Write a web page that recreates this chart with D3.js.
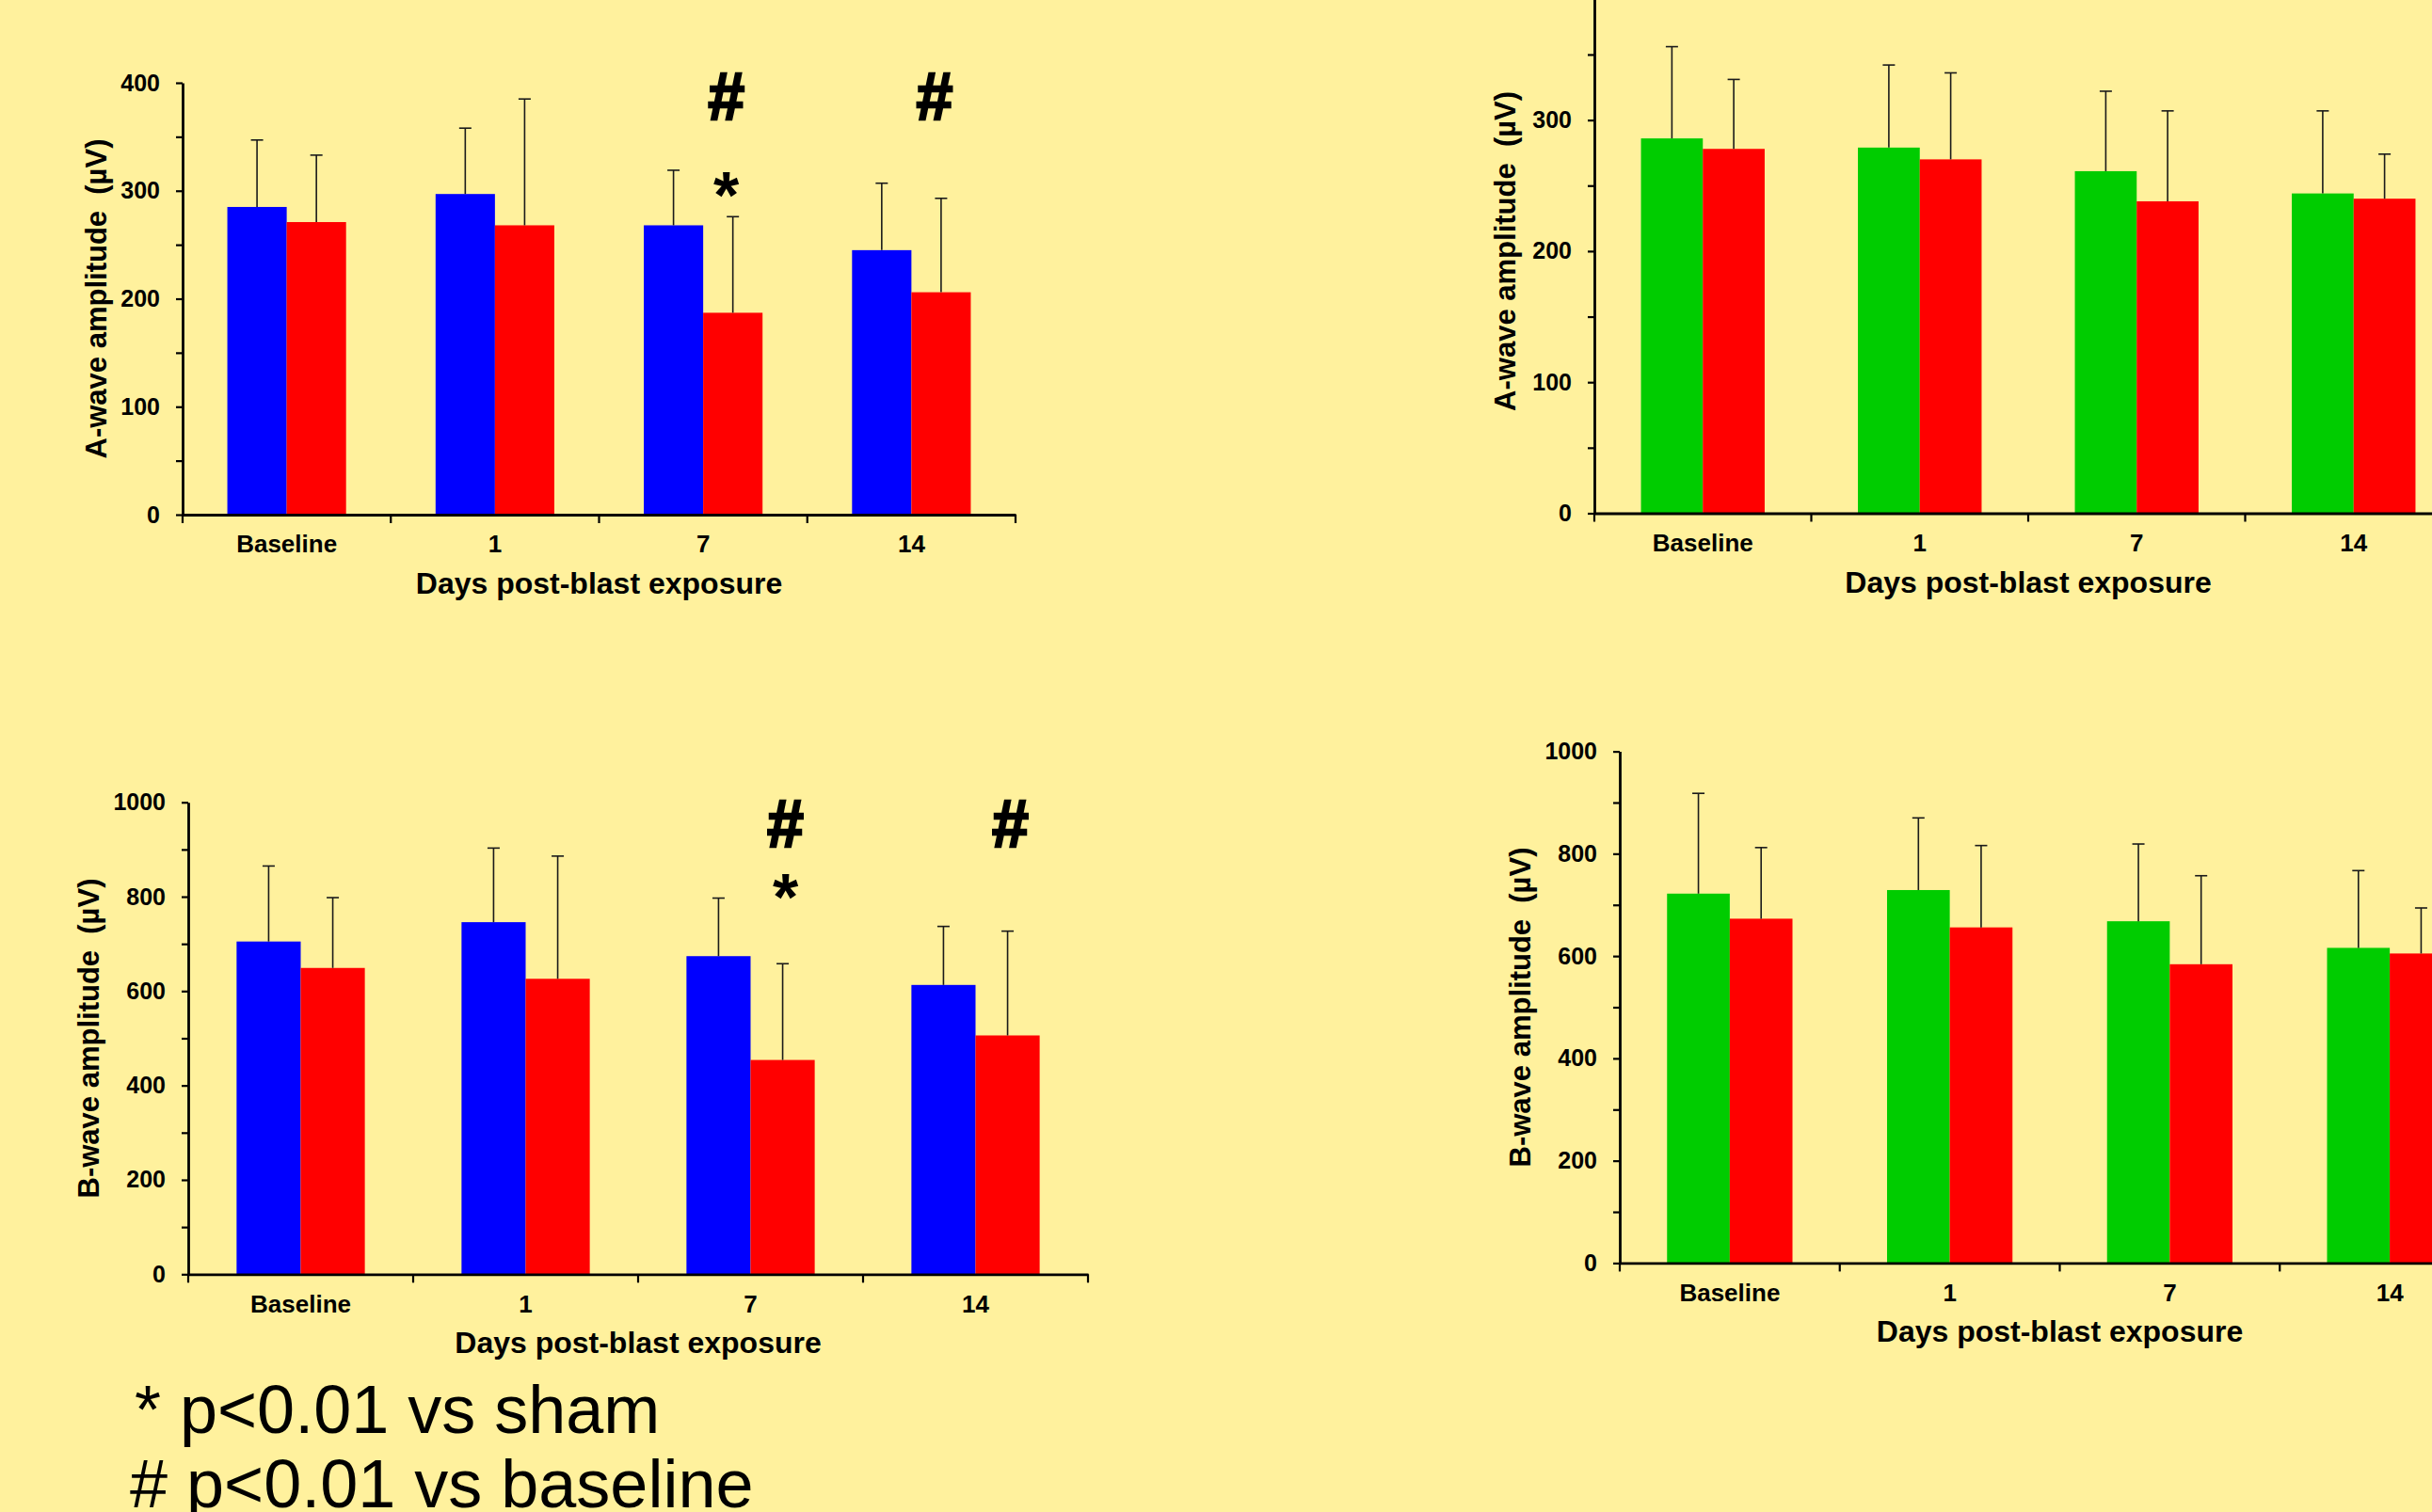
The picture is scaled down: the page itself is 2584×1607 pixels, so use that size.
<!DOCTYPE html>
<html>
<head>
<meta charset="utf-8">
<script src="https://cdn.jsdelivr.net/npm/d3@7"></script>
<style>
  html, body { margin: 0; padding: 0; background: #FFF19D; overflow: hidden; }
  svg { display: block; }
  text { font-family: Arial, "Liberation Sans", Helvetica, sans-serif; }
</style>
</head>
<body>
<svg id="chart" width="2584" height="1607"></svg>
<script>
// ---- data ----
const categories = ["Baseline", "1", "7", "14"];
const aWaveTicks = [0, 100, 200, 300, 400];
const bWaveTicks = [0, 200, 400, 600, 800, 1000];

// A-wave amplitude (µV), left panel
const aShamMean  = [285, 297, 268, 245];
const aShamErr   = [62, 61, 51, 62];
const aBlastMean = [271, 268, 187, 206];
const aBlastErr  = [62, 117, 89, 87];

// A-wave amplitude (µV), right panel
const aCtrlMean   = [286, 279, 261, 244];
const aCtrlErr    = [70, 63, 61, 63];
const aBlast2Mean = [278, 270, 238, 240];
const aBlast2Err  = [53, 66, 69, 34];

// B-wave amplitude (µV), left panel
const bShamMean  = [705, 746, 674, 613];
const bShamErr   = [160, 157, 123, 124];
const bBlastMean = [649, 626, 454, 506];
const bBlastErr  = [149, 260, 204, 221];

// B-wave amplitude (µV), right panel
const bCtrlMean   = [722, 729, 668, 616];
const bCtrlErr    = [196, 141, 151, 151];
const bBlast2Mean = [673, 656, 584, 605];
const bBlast2Err  = [139, 160, 173, 89];

// significance marks: category and symbol
const aWaveMarks = [{cat: "7", sym: "#"}, {cat: "14", sym: "#"}, {cat: "7", sym: "*"}];
const bWaveMarks = [{cat: "7", sym: "#"}, {cat: "14", sym: "#"}, {cat: "7", sym: "*"}];

const footnotes = ["* p<0.01 vs sham", "# p<0.01 vs baseline"];

// ---- styling ----
const BLUE = "#0000FF", RED = "#FF0000", GREEN = "#00CC00";
const FONT = 'Arial, "Liberation Sans", Helvetica, sans-serif';

const panels = [
  { left: 194, right: 1079, top: 88, bottom: 547, max: 400, ticks: aWaveTicks,
    title: "A-wave amplitude  (µV)", titleOff: 92,
    series: [{mean: aShamMean, err: aShamErr, color: BLUE}, {mean: aBlastMean, err: aBlastErr, color: RED}],
    marks: aWaveMarks, hashY: 127, starY: 232, markDx: -7 },
  { left: 1694, right: 2616, top: -11.7, bottom: 545.5, max: 400, ticks: aWaveTicks,
    title: "A-wave amplitude  (µV)", titleOff: 95,
    series: [{mean: aCtrlMean, err: aCtrlErr, color: GREEN}, {mean: aBlast2Mean, err: aBlast2Err, color: RED}],
    marks: [] },
  { left: 200, right: 1156, top: 852.7, bottom: 1354.3, max: 1000, ticks: bWaveTicks,
    title: "B-wave amplitude  (µV)", titleOff: 106,
    series: [{mean: bShamMean, err: bShamErr, color: BLUE}, {mean: bBlastMean, err: bBlastErr, color: RED}],
    marks: bWaveMarks, hashY: 900, starY: 978, markDx: 3 },
  { left: 1721, right: 2656, top: 798.6, bottom: 1342.4, max: 1000, ticks: bWaveTicks,
    title: "B-wave amplitude  (µV)", titleOff: 106,
    series: [{mean: bCtrlMean, err: bCtrlErr, color: GREEN}, {mean: bBlast2Mean, err: bBlast2Err, color: RED}],
    marks: [] }
];

const svg = d3.select("#chart");

function drawPanel(p) {
  const g = svg.append("g");
  const x = d3.scaleBand().domain(categories).range([p.left, p.right]);
  const sub = d3.scaleBand().domain([0, 1]).range([0, x.bandwidth()]).paddingOuter(0.754);
  const y = d3.scaleLinear().domain([0, p.max]).range([p.bottom, p.top]);

  // bars
  p.series.forEach((s, si) => {
    g.append("g").selectAll("rect").data(s.mean).join("rect")
      .attr("x", (d, i) => x(categories[i]) + sub(si))
      .attr("width", sub.bandwidth())
      .attr("y", d => y(d))
      .attr("height", d => y(0) - y(d))
      .attr("fill", s.color);
  });

  // error bars (upper whisker with cap)
  p.series.forEach((s, si) => {
    const eb = g.append("g").attr("stroke", "#1a1a1a").attr("stroke-width", 1.6);
    s.mean.forEach((m, i) => {
      const cx = x(categories[i]) + sub(si) + sub.bandwidth() / 2;
      const yTop = y(m + s.err[i]);
      eb.append("line").attr("x1", cx).attr("x2", cx).attr("y1", y(m)).attr("y2", yTop);
      eb.append("line").attr("x1", cx - 6.5).attr("x2", cx + 6.5).attr("y1", yTop).attr("y2", yTop);
    });
  });

  // y axis: major ticks, labelled only where the label sits inside the page
  const yAxis = g.append("g").attr("transform", `translate(${p.left},0)`)
    .call(d3.axisLeft(y).tickValues(p.ticks).tickSize(7).tickPadding(17).tickSizeOuter(0)
      .tickFormat(d => y(d) > 10 ? d3.format("d")(d) : ""));
  // minor ticks halfway between majors
  const minor = p.ticks.slice(0, -1).map((t, i) => (t + p.ticks[i + 1]) / 2);
  const yMinor = g.append("g").attr("transform", `translate(${p.left},0)`)
    .call(d3.axisLeft(y).tickValues(minor).tickSize(7).tickFormat("").tickSizeOuter(0));
  yMinor.select(".domain").remove();

  // x axis: category labels centred in bands
  const xAxis = g.append("g").attr("transform", `translate(0,${p.bottom})`)
    .call(d3.axisBottom(x).tickSize(0).tickPadding(22).tickSizeOuter(0));

  // category boundary ticks
  const bounds = d3.range(categories.length + 1).map(i => x.range()[0] + i * x.step());
  g.append("g").selectAll("line").data(bounds).join("line")
    .attr("x1", d => d).attr("x2", d => d)
    .attr("y1", p.bottom).attr("y2", p.bottom + 9)
    .attr("stroke", "#000").attr("stroke-width", 2.2);

  [yAxis, yMinor].forEach(a => a.attr("font-size", 25));
  xAxis.attr("font-size", 26);
  [yAxis, yMinor, xAxis].forEach(a => {
    a.attr("font-family", FONT).attr("font-weight", "bold");
    a.selectAll(".domain").attr("stroke", "#000").attr("stroke-width", 2.8);
    a.selectAll(".tick line").attr("stroke", "#000").attr("stroke-width", 2.2);
    a.selectAll(".tick text").attr("fill", "#000");
  });

  // axis titles
  g.append("text")
    .attr("x", (p.left + p.right) / 2).attr("y", p.bottom + 84)
    .attr("text-anchor", "middle")
    .attr("font-size", 32).attr("font-weight", "bold")
    .text("Days post-blast exposure");

  g.append("text")
    .attr("transform", `translate(${p.left - p.titleOff},${(p.top + p.bottom) / 2}) rotate(-90)`)
    .attr("text-anchor", "middle").attr("dy", "0.35em")
    .attr("font-size", 31).attr("font-weight", "bold")
    .style("white-space", "pre")
    .text(p.title);

  // significance marks above the blast bars
  p.marks.forEach(m => {
    const cx = x(m.cat) + sub(1) + sub.bandwidth() / 2 + p.markDx;
    const t = g.append("text")
      .attr("x", cx).attr("y", m.sym === "#" ? p.hashY : p.starY)
      .attr("text-anchor", "middle")
      .attr("font-size", 70).attr("font-weight", "bold")
      .text(m.sym);
    if (m.sym === "#") {
      t.attr("stroke", "#000").attr("stroke-width", 2.4).attr("stroke-linejoin", "miter");
    }
  });
}

panels.forEach(drawPanel);

// footnotes
svg.append("g").selectAll("text").data(footnotes).join("text")
  .attr("x", (d, i) => i === 0 ? 143 : 138)
  .attr("y", (d, i) => i === 0 ? 1523 : 1602)
  .attr("font-size", 72)
  .text(d => d);
</script>
</body>
</html>
